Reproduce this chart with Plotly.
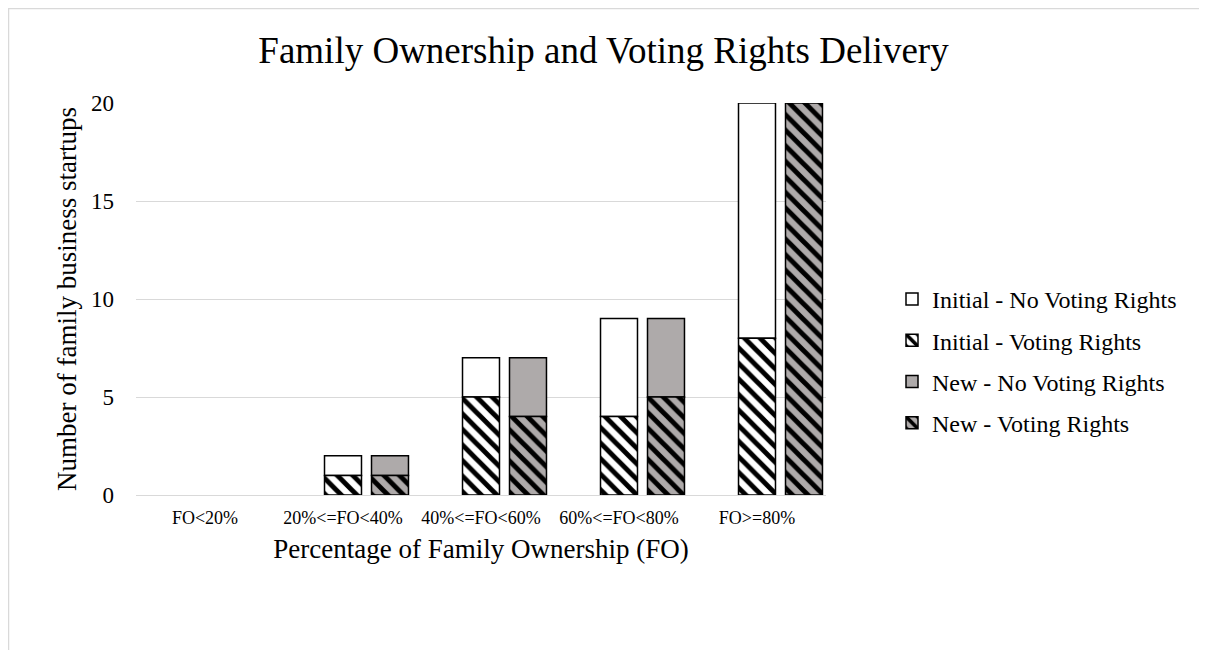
import plotly.graph_objects as go

categories = ["FO<20%", "20%<=FO<40%", "40%<=FO<60%", "60%<=FO<80%", "FO>=80%"]
initial_voting = [0, 1, 5, 4, 8]
initial_no_voting = [0, 1, 2, 5, 12]
new_voting = [0, 1, 4, 5, 20]
new_no_voting = [0, 1, 3, 4, 0]
y_ticks = [0, 5, 10, 15, 20]

FONT = "Liberation Serif, Times New Roman, serif"
GRAY = "#AEAAAA"
BAR_W = 0.268
OFF_INIT = -0.134
OFF_NEW = 0.2065

# page has an 8px body margin; work in figure coordinates
SH = 8
W, H = 1199, 642
L, R, T, B = 136 - SH, 826 - SH, 103 - SH, 495 - SH
pw, ph = R - L, B - T


def px_x(p):
    return (p - SH - L) / pw


def px_y(p):
    return (B - (p - SH)) / ph


def nz(vals):
    # zero-height segments are not drawn
    return [v if v else None for v in vals]


line = dict(color="black", width=1.5)
pat = dict(shape="\\", fgcolor="black", fgopacity=1, size=11, solidity=0.45,
           fillmode="overlay")

fig = go.Figure()
fig.add_trace(go.Bar(
    x=categories, y=nz(initial_no_voting), base=initial_voting,
    name="Initial - No Voting Rights", width=BAR_W, offset=OFF_INIT,
    marker=dict(color="white", line=line), legendrank=1, legendgroup="a"))
fig.add_trace(go.Bar(
    x=categories, y=nz(initial_voting),
    name="Initial - Voting Rights", width=BAR_W, offset=OFF_INIT,
    marker=dict(color="white", line=line, pattern=dict(pat, bgcolor="white")),
    legendrank=2, legendgroup="b"))
fig.add_trace(go.Bar(
    x=categories, y=nz(new_no_voting), base=new_voting,
    name="New - No Voting Rights", width=BAR_W, offset=OFF_NEW,
    marker=dict(color=GRAY, line=line), legendrank=3, legendgroup="c"))
fig.add_trace(go.Bar(
    x=categories, y=nz(new_voting),
    name="New - Voting Rights", width=BAR_W, offset=OFF_NEW,
    marker=dict(color=GRAY, line=line, pattern=dict(pat, bgcolor=GRAY)),
    legendrank=4, legendgroup="d"))

fig.update_layout(
    width=W, height=H,
    barmode="overlay",
    paper_bgcolor="white", plot_bgcolor="white",
    margin=dict(l=L, r=W - R, t=T, b=H - B, autoexpand=False),
    font=dict(family=FONT, color="black"),
    title=dict(text="Family Ownership and Voting Rights Delivery",
               x=0.5 * 1207 / W - SH / W, xref="container", xanchor="center",
               y=1 - (50 - SH) / H, yref="container", yanchor="middle",
               font=dict(size=37, family=FONT, color="black")),
    legend=dict(x=px_x(892), y=px_y(361), xanchor="left", yanchor="middle",
                font=dict(size=24, family=FONT, color="black"),
                tracegroupgap=7, traceorder="grouped", bgcolor="rgba(0,0,0,0)"),
    xaxis=dict(range=[-0.5, 4.5], showgrid=False, showline=False, ticks="",
               ticklabelstandoff=10,
               tickfont=dict(size=18, family=FONT, color="black"),
               title=dict(text="Percentage of Family Ownership (FO)", standoff=12,
                          font=dict(size=27, family=FONT, color="black"))),
    yaxis=dict(range=[0, 20], tickvals=y_ticks, showgrid=True, gridcolor="#D9D9D9",
               gridwidth=1, zeroline=True, zerolinecolor="#D9D9D9", zerolinewidth=1,
               showline=False, ticks="", ticklabelstandoff=21,
               tickfont=dict(size=23, family=FONT, color="black"),
               title=dict(text="Number of family business startups", standoff=6,
                          font=dict(size=27, family=FONT, color="black"))),
    showlegend=True,
)

fig.add_shape(type="rect", xref="paper", yref="paper",
              x0=px_x(8.5), x1=px_x(1204), y0=px_y(690), y1=px_y(8.5),
              line=dict(color="#D9D9D9", width=1.5), fillcolor="rgba(0,0,0,0)",
              layer="below")

fig.write_html("out.html")
